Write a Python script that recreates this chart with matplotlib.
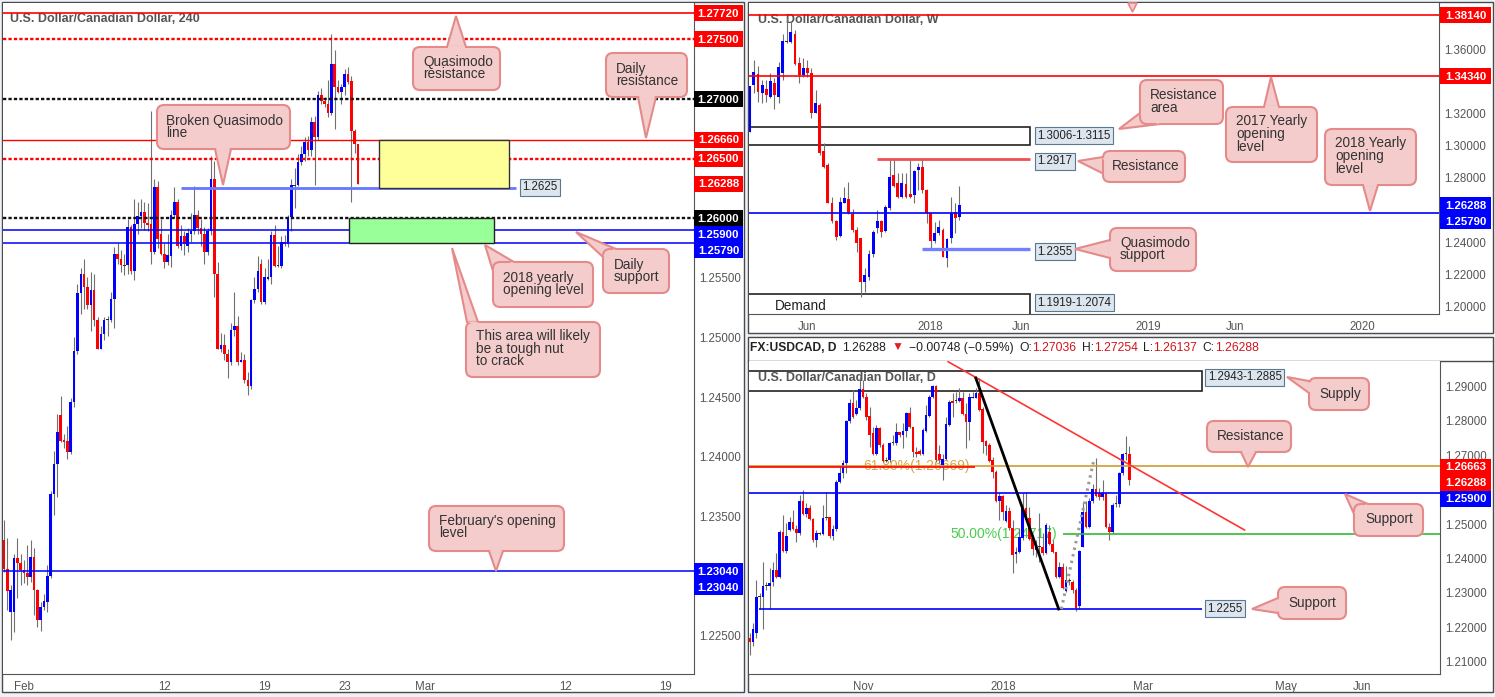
import numpy as np
import pandas as pd
import matplotlib
matplotlib.use("Agg")
import matplotlib.pyplot as plt
from matplotlib.patches import Rectangle, FancyBboxPatch, Polygon
from matplotlib.lines import Line2D
from matplotlib.transforms import Affine2D
from matplotlib.offsetbox import TextArea, HPacker, AnnotationBbox

# ---------------- H4 candles (31 Jan - 23 Feb 2018) ----------------
h4_open = [1.2330, 1.2306, 1.2270, 1.2270, 1.2315, 1.2311, 1.2305, 1.2302, 1.2299, 1.2316,
           1.2288, 1.2263, 1.2274, 1.2278, 1.2300, 1.2369, 1.2394, 1.2435, 1.2414, 1.2413,
           1.2404, 1.2446, 1.2489, 1.2537, 1.2553, 1.2542, 1.2527, 1.2540, 1.2515, 1.2490,
           1.2503, 1.2515, 1.2515, 1.2532, 1.2570, 1.2566, 1.2561, 1.2561, 1.2593, 1.2556,
           1.2595, 1.2602, 1.2605, 1.2596, 1.2595, 1.2572, 1.2626, 1.2587, 1.2570, 1.2563,
           1.2568, 1.2603, 1.2614, 1.2577, 1.2585, 1.2577, 1.2587, 1.2589, 1.2603, 1.2592,
           1.2587, 1.2572, 1.2589, 1.2633, 1.2553, 1.2490, 1.2494, 1.2486, 1.2479, 1.2506,
           1.2510, 1.2479, 1.2481, 1.2464, 1.2459, 1.2531, 1.2541, 1.2562, 1.2530, 1.2549,
           1.2551, 1.2586, 1.2560, 1.2560, 1.2580, 1.2578, 1.2601, 1.2628, 1.2628, 1.2647,
           1.2654, 1.2664, 1.2657, 1.2681, 1.2668, 1.2703, 1.2698, 1.2696, 1.2688, 1.2729,
           1.2710, 1.2706, 1.2710, 1.2721, 1.2715, 1.2673, 1.2662]
h4_high = [1.2347, 1.2332, 1.2292, 1.2318, 1.2332, 1.2318, 1.2313, 1.2326, 1.2330, 1.2323,
           1.2289, 1.2278, 1.2285, 1.2309, 1.2371, 1.2405, 1.2436, 1.2451, 1.2419, 1.2426,
           1.2449, 1.2500, 1.2545, 1.2558, 1.2566, 1.2551, 1.2555, 1.2553, 1.2517, 1.2510,
           1.2517, 1.2518, 1.2538, 1.2576, 1.2579, 1.2573, 1.2570, 1.2599, 1.2594, 1.2616,
           1.2614, 1.2616, 1.2614, 1.2613, 1.2690, 1.2633, 1.2631, 1.2599, 1.2579, 1.2587,
           1.2607, 1.2626, 1.2616, 1.2594, 1.2589, 1.2592, 1.2604, 1.2627, 1.2607, 1.2599,
           1.2593, 1.2592, 1.2652, 1.2648, 1.2563, 1.2504, 1.2503, 1.2490, 1.2512, 1.2538,
           1.2518, 1.2488, 1.2486, 1.2471, 1.2532, 1.2551, 1.2568, 1.2566, 1.2558, 1.2566,
           1.2589, 1.2594, 1.2577, 1.2585, 1.2586, 1.2603, 1.2633, 1.2642, 1.2654, 1.2661,
           1.2668, 1.2669, 1.2685, 1.2686, 1.2707, 1.2709, 1.2702, 1.2716, 1.2755, 1.2741,
           1.2716, 1.2713, 1.2725, 1.2727, 1.2719, 1.2675, 1.2662]
h4_low = [1.2303, 1.2271, 1.2246, 1.2253, 1.2281, 1.2292, 1.2294, 1.2292, 1.2295, 1.2267,
          1.2257, 1.2254, 1.2271, 1.2270, 1.2298, 1.2351, 1.2366, 1.2412, 1.2407, 1.2398,
          1.2402, 1.2442, 1.2486, 1.2520, 1.2524, 1.2524, 1.2505, 1.2510, 1.2490, 1.2490,
          1.2498, 1.2501, 1.2513, 1.2508, 1.2562, 1.2555, 1.2552, 1.2553, 1.2553, 1.2548,
          1.2587, 1.2592, 1.2590, 1.2589, 1.2562, 1.2570, 1.2575, 1.2569, 1.2558, 1.2561,
          1.2559, 1.2600, 1.2575, 1.2573, 1.2569, 1.2572, 1.2580, 1.2587, 1.2587, 1.2577,
          1.2562, 1.2569, 1.2586, 1.2534, 1.2490, 1.2488, 1.2481, 1.2466, 1.2477, 1.2501,
          1.2477, 1.2479, 1.2462, 1.2452, 1.2457, 1.2529, 1.2538, 1.2528, 1.2528, 1.2548,
          1.2545, 1.2559, 1.2559, 1.2558, 1.2577, 1.2576, 1.2589, 1.2609, 1.2627, 1.2645,
          1.2648, 1.2652, 1.2652, 1.2628, 1.2666, 1.2696, 1.2693, 1.2685, 1.2687, 1.2675,
          1.2705, 1.2696, 1.2703, 1.2713, 1.2614, 1.2655, 1.2629]
h4_close = [1.2306, 1.2287, 1.2288, 1.2315, 1.2311, 1.2305, 1.2302, 1.2299, 1.2316, 1.2288,
            1.2263, 1.2274, 1.2279, 1.2300, 1.2369, 1.2394, 1.2421, 1.2413, 1.2412, 1.2404,
            1.2446, 1.2489, 1.2537, 1.2553, 1.2542, 1.2527, 1.2540, 1.2515, 1.2490, 1.2503,
            1.2515, 1.2515, 1.2532, 1.2570, 1.2566, 1.2561, 1.2560, 1.2593, 1.2556, 1.2595,
            1.2602, 1.2605, 1.2596, 1.2594, 1.2572, 1.2626, 1.2583, 1.2570, 1.2563, 1.2569,
            1.2603, 1.2614, 1.2577, 1.2585, 1.2578, 1.2588, 1.2589, 1.2603, 1.2592, 1.2587,
            1.2572, 1.2589, 1.2633, 1.2553, 1.2490, 1.2494, 1.2486, 1.2479, 1.2506, 1.2510,
            1.2479, 1.2481, 1.2464, 1.2459, 1.2531, 1.2541, 1.2556, 1.2530, 1.2551, 1.2551,
            1.2586, 1.2560, 1.2560, 1.2580, 1.2578, 1.2601, 1.2628, 1.2627, 1.2647, 1.2654,
            1.2664, 1.2657, 1.2681, 1.2668, 1.2703, 1.2698, 1.2696, 1.2688, 1.2729, 1.2710,
            1.2706, 1.2710, 1.2721, 1.2714, 1.2673, 1.2662, 1.26288]
h4_start = '2018-01-31'
h4_tick_dates = ['2018-02-01', '2018-02-12', '2018-02-19', '2018-02-23',
                 '2018-03-01', '2018-03-12', '2018-03-19']
h4_tick_labels = ['Feb', '12', '19', '23', 'Mar', '12', '19']

# ---------------- weekly candles (27 Feb 2017 - 19 Feb 2018) ----------------
w_open = [1.3089, 1.3378, 1.3449, 1.3332, 1.3353, 1.3307, 1.3395, 1.3307, 1.3453, 1.3655,
          1.3646, 1.3698, 1.3515, 1.3442, 1.3486, 1.3457, 1.3207, 1.3253, 1.2968, 1.2881,
          1.2646, 1.2531, 1.2438, 1.2646, 1.2667, 1.2575, 1.2475, 1.2423, 1.2153, 1.2184,
          1.2323, 1.2486, 1.2531, 1.2471, 1.2615, 1.2818, 1.2766, 1.2683, 1.2760, 1.2700,
          1.2694, 1.2850, 1.2870, 1.2725, 1.2579, 1.2407, 1.2459, 1.2475, 1.2298, 1.2427,
          1.2590, 1.2558]
w_high = [1.3374, 1.3536, 1.3499, 1.3411, 1.3411, 1.3453, 1.3422, 1.3526, 1.3698, 1.3806,
          1.3775, 1.3723, 1.3557, 1.3546, 1.3536, 1.3484, 1.3349, 1.3270, 1.3016, 1.2891,
          1.2683, 1.2538, 1.2683, 1.2746, 1.2777, 1.2604, 1.2496, 1.2427, 1.2236, 1.2350,
          1.2475, 1.2600, 1.2538, 1.2631, 1.2916, 1.2912, 1.2829, 1.2829, 1.2833, 1.2912,
          1.2850, 1.2891, 1.2916, 1.2729, 1.2583, 1.2527, 1.2538, 1.2486, 1.2423, 1.2683,
          1.2642, 1.2752]
w_low = [1.3089, 1.3328, 1.3276, 1.3266, 1.3276, 1.3297, 1.3228, 1.3266, 1.3411, 1.3640,
         1.3640, 1.3505, 1.3390, 1.3432, 1.3432, 1.3172, 1.3203, 1.2943, 1.2860, 1.2642,
         1.2517, 1.2413, 1.2434, 1.2642, 1.2575, 1.2465, 1.2340, 1.2059, 1.2090, 1.2163,
         1.2309, 1.2459, 1.2434, 1.2465, 1.2600, 1.2746, 1.2673, 1.2673, 1.2673, 1.2673,
         1.2642, 1.2725, 1.2708, 1.2517, 1.2350, 1.2392, 1.2444, 1.2305, 1.2246, 1.2392,
         1.2455, 1.2538]
w_close = [1.3374, 1.3461, 1.3338, 1.3380, 1.3318, 1.3405, 1.3318, 1.3490, 1.3655, 1.3646,
           1.3709, 1.3509, 1.3442, 1.3486, 1.3457, 1.3207, 1.3266, 1.2958, 1.2870, 1.2646,
           1.2531, 1.2434, 1.2648, 1.2673, 1.2579, 1.2475, 1.2392, 1.2153, 1.2194, 1.2323,
           1.2465, 1.2531, 1.2465, 1.2621, 1.2808, 1.2752, 1.2683, 1.2771, 1.2679, 1.2679,
           1.2843, 1.2870, 1.2725, 1.2579, 1.2407, 1.2459, 1.2496, 1.2309, 1.2419, 1.2579,
           1.2552, 1.26288]
w_start = '2017-02-27'
w_tick_months = [(2017, 6), (2018, 1), (2018, 6), (2019, 1), (2019, 6), (2020, 1)]
w_tick_labels = ['Jun', '2018', 'Jun', '2019', 'Jun', '2020']

# ---------------- daily candles (14 Sep 2017 - 23 Feb 2018) ----------------
d_open = [1.2169, 1.2159, 1.2185, 1.2288, 1.2288, 1.2320, 1.2320, 1.2333, 1.2367, 1.2346,
          1.2478, 1.2423, 1.2483, 1.2505, 1.2485, 1.2473, 1.2567, 1.2529, 1.2547, 1.2514,
          1.2453, 1.2473, 1.2472, 1.2518, 1.2520, 1.2466, 1.2485, 1.2622, 1.2647, 1.2676,
          1.2800, 1.2852, 1.2819, 1.2835, 1.2890, 1.2867, 1.2813, 1.2763, 1.2703, 1.2777,
          1.2729, 1.2684, 1.2686, 1.2734, 1.2734, 1.2767, 1.2758, 1.2771, 1.2823, 1.2780,
          1.2710, 1.2713, 1.2703, 1.2771, 1.2813, 1.2867, 1.2900, 1.2702,
          1.2671, 1.2688, 1.2787, 1.2857, 1.2858, 1.2858, 1.2864, 1.2819, 1.2797, 1.2866,
          1.2866, 1.2879, 1.2832, 1.2741, 1.2729, 1.2686, 1.2652, 1.2568, 1.2581, 1.2510,
          1.2538, 1.2488, 1.2412, 1.2418, 1.2459, 1.2545, 1.2518, 1.2459, 1.2425, 1.2433,
          1.2433, 1.2415, 1.2476, 1.2441, 1.2418, 1.2345, 1.2375, 1.2307, 1.2336, 1.2333,
          1.2309, 1.2261, 1.2434, 1.2536, 1.2490, 1.2567, 1.2602, 1.2589, 1.2577, 1.2591,
          1.2490, 1.2478, 1.2558, 1.2558, 1.2647, 1.2702, 1.27036]
d_high = [1.2183, 1.2212, 1.2338, 1.2299, 1.2391, 1.2333, 1.2372, 1.2391, 1.2415, 1.2483,
          1.2526, 1.2502, 1.2521, 1.2541, 1.2497, 1.2584, 1.2599, 1.2560, 1.2555, 1.2517,
          1.2483, 1.2478, 1.2555, 1.2594, 1.2521, 1.2497, 1.2628, 1.2666, 1.2686, 1.2802,
          1.2861, 1.2888, 1.2859, 1.2927, 1.2917, 1.2879, 1.2840, 1.2782, 1.2787, 1.2782,
          1.2734, 1.2695, 1.2739, 1.2758, 1.2792, 1.2768, 1.2792, 1.2826, 1.2840, 1.2782,
          1.2724, 1.2717, 1.2777, 1.2845, 1.2874, 1.2903, 1.2903, 1.2729,
          1.2703, 1.2811, 1.2860, 1.2879, 1.2884, 1.2893, 1.2884, 1.2850, 1.2879, 1.2884,
          1.2893, 1.2922, 1.2840, 1.2744, 1.2734, 1.2695, 1.2657, 1.2589, 1.2584, 1.2555,
          1.2550, 1.2512, 1.2434, 1.2488, 1.2589, 1.2594, 1.2550, 1.2468, 1.2454, 1.2531,
          1.2473, 1.2502, 1.2497, 1.2454, 1.2420, 1.2391, 1.2386, 1.2377, 1.2343, 1.2338,
          1.2314, 1.2425, 1.2565, 1.2566, 1.2576, 1.2616, 1.2692, 1.2603, 1.2627, 1.2594,
          1.2502, 1.2560, 1.2584, 1.2652, 1.2705, 1.2755, 1.27254]
d_low = [1.2121, 1.2145, 1.2169, 1.2253, 1.2195, 1.2309, 1.2253, 1.2319, 1.2343, 1.2343,
         1.2420, 1.2415, 1.2481, 1.2483, 1.2449, 1.2468, 1.2526, 1.2521, 1.2512, 1.2449,
         1.2434, 1.2468, 1.2468, 1.2512, 1.2459, 1.2454, 1.2481, 1.2618, 1.2632, 1.2647,
         1.2792, 1.2806, 1.2816, 1.2830, 1.2864, 1.2802, 1.2724, 1.2700, 1.2700, 1.2724,
         1.2681, 1.2681, 1.2681, 1.2729, 1.2729, 1.2753, 1.2719, 1.2753, 1.2777, 1.2695,
         1.2695, 1.2700, 1.2700, 1.2768, 1.2811, 1.2864, 1.2681, 1.2676,
         1.2628, 1.2686, 1.2784, 1.2811, 1.2850, 1.2855, 1.2816, 1.2719, 1.2744, 1.2864,
         1.2864, 1.2829, 1.2705, 1.2700, 1.2681, 1.2632, 1.2565, 1.2512, 1.2512, 1.2507,
         1.2483, 1.2357, 1.2386, 1.2415, 1.2454, 1.2517, 1.2454, 1.2410, 1.2405, 1.2391,
         1.2410, 1.2413, 1.2439, 1.2415, 1.2343, 1.2343, 1.2311, 1.2304, 1.2323, 1.2299,
         1.2249, 1.2253, 1.2433, 1.2488, 1.2488, 1.2560, 1.2577, 1.2570, 1.2570, 1.2488,
         1.2454, 1.2473, 1.2550, 1.2550, 1.2642, 1.2686, 1.26137]
d_close = [1.2159, 1.2195, 1.2288, 1.2287, 1.2320, 1.2321, 1.2328, 1.2367, 1.2346, 1.2478,
           1.2423, 1.2465, 1.2505, 1.2485, 1.2473, 1.2567, 1.2529, 1.2547, 1.2514, 1.2453,
           1.2473, 1.2472, 1.2518, 1.2520, 1.2466, 1.2485, 1.2622, 1.2647, 1.2676, 1.2800,
           1.2852, 1.2809, 1.2835, 1.2890, 1.2867, 1.2811, 1.2758, 1.2703, 1.2777, 1.2729,
           1.2684, 1.2686, 1.2734, 1.2736, 1.2767, 1.2758, 1.2771, 1.2823, 1.2780, 1.2710,
           1.2703, 1.2703, 1.2773, 1.2816, 1.2867, 1.2900, 1.2686, 1.2686,
           1.2688, 1.2790, 1.2855, 1.2850, 1.2859, 1.2864, 1.2819, 1.2797, 1.2869, 1.2869,
           1.2879, 1.2830, 1.2739, 1.2726, 1.2684, 1.2652, 1.2568, 1.2581, 1.2536, 1.2538,
           1.2488, 1.2410, 1.2418, 1.2461, 1.2545, 1.2518, 1.2456, 1.2428, 1.2433, 1.2432,
           1.2415, 1.2497, 1.2441, 1.2418, 1.2345, 1.2375, 1.2314, 1.2338, 1.2335, 1.2309,
           1.2256, 1.2422, 1.2536, 1.2490, 1.2567, 1.2602, 1.2581, 1.2577, 1.2591, 1.2490,
           1.2478, 1.2555, 1.2560, 1.2647, 1.2702, 1.2704, 1.26288]
d_start, d_end = '2017-09-14', '2018-06-29'
d_holidays = ['2017-12-25', '2018-01-01']
d_tick_months = [(2017, 11), (2018, 1), (2018, 3), (2018, 5), (2018, 6)]
d_tick_labels = ['Nov', '2018', 'Mar', 'May', 'Jun']

RED, BLUE, BLACK = '#ff0000', '#0000ff', '#111111'
W, H = 1495, 697
plt.rcParams['font.family'] = ['Liberation Sans', 'DejaVu Sans']

fig = plt.figure(figsize=(W / 100, H / 100), dpi=100, facecolor='#eef1f6')
PX = Affine2D().scale(1 / W, -1 / H).translate(0, 1) + fig.transFigure


def make_axes(rect, xlim, ylim, yticks):
    x0, y0, x1, y1 = rect
    ax = fig.add_axes([x0 / W, 1 - y1 / H, (x1 - x0) / W, (y1 - y0) / H])
    ax.set_xlim(*xlim)
    ax.set_ylim(*ylim)
    ax.set_facecolor('white')
    for side in ('top', 'left'):
        ax.spines[side].set_visible(False)
    for side in ('right', 'bottom'):
        ax.spines[side].set_color('#555555')
    ax.yaxis.tick_right()
    ax.set_yticks(yticks)
    ax.tick_params(length=0, labelsize=8.3, labelcolor='#555555', pad=4)
    ax.tick_params(axis='x', pad=5)
    return ax


def draw_candles(ax, o, h, l, c, width, doji):
    o, h, l, c = (np.asarray(v) for v in (o, h, l, c))
    x = np.arange(len(o))
    ax.vlines(x, l, h, color='#707070', lw=0.8, zorder=3)
    y0, y1 = ax.get_ylim()
    one_px = (y1 - y0) / (ax.get_position().height * H)
    col = np.where(c >= o, BLUE, RED).astype(object)
    col[np.abs(c - o) < doji] = '#3a2a2a'
    ax.bar(x, np.maximum(np.abs(c - o), one_px), width, bottom=np.minimum(o, c),
           color=list(col), lw=0, zorder=3.1)


def value_tag(ax, x, y, text):
    ax.text(x, y, text, ha='left', va='center', fontsize=8.3, color='#222222', zorder=6,
            bbox=dict(boxstyle='square,pad=0.22', fc='#dde6ee', ec='#5a7890', lw=0.8))


def price_px(ax, p):
    return H - ax.transData.transform((0, p))[1] * H / fig.bbox.height


def axis_tags(ax, tags, x0, x1):
    last = -1e9
    placed = []
    for p, color in sorted(tags, key=lambda t: -t[0]):
        y = max(price_px(ax, p), last + 16)
        last = y
        placed.append(y)
        fig.add_artist(Rectangle((x0, y - 8), x1 - x0, 16, transform=PX,
                                 fc=color, ec='none', zorder=30))
        fig.text((x0 + x1) / 2, y + 0.5, f'{p:.5f}', transform=PX, ha='center',
                 va='center', color='white', fontsize=8.2, fontweight='bold', zorder=31)
    # tick labels hidden under a tag are left out
    labels = []
    for t in ax.get_yticks():
        ty = price_px(ax, t)
        labels.append('' if any(abs(ty - y) < 10 for y in placed) else f'{t:.5f}')
    ax.set_yticklabels(labels)


def callout(lines, box, tip, base, txt):
    fc, ec = '#f4cccc', '#e58a8a'
    x0, y0, x1, y1 = box
    fig.add_artist(Polygon([base[0], tip, base[1]], closed=True, transform=PX,
                           fc=fc, ec=ec, lw=1.5, zorder=20))
    fig.add_artist(FancyBboxPatch((x0, y0), x1 - x0, y1 - y0,
                                  boxstyle='round,pad=0,rounding_size=7', transform=PX,
                                  fc=fc, ec=ec, lw=1.5, zorder=21))
    b0, b1 = np.array(base[0], float), np.array(base[1], float)
    centre = np.array([(x0 + x1) / 2, (y0 + y1) / 2])
    u = (b1 - b0) / np.linalg.norm(b1 - b0)
    n = centre - (b0 + b1) / 2
    n = n / np.linalg.norm(n)
    b0s, b1s = b0 + u * 1.3, b1 - u * 1.3
    cover = [b0s - n * 1.2, b1s - n * 1.2, b1s + n * 3, b0s + n * 3]
    fig.add_artist(Polygon(cover, closed=True, transform=PX, fc=fc, ec='none', zorder=22))
    fig.text(txt[0], txt[1], '\n'.join(lines), transform=PX, ha='left', va='center',
             fontsize=9.8, color='#333333', linespacing=0.88, zorder=23)


# panel frames
for x0, y0, x1, y1 in [(2, 2, 744, 692), (748, 2, 1493, 333), (748, 337, 1493, 692)]:
    fig.add_artist(Rectangle((x0, y0), x1 - x0, y1 - y0, transform=PX, fc='white',
                             ec='#4a4a4a', lw=1, zorder=-5))
fig.add_artist(Line2D([748, 1493], [361, 361], transform=PX, color='#4a4a4a', lw=1, zorder=-4))

title_kw = dict(transform=PX, ha='left', va='center', fontsize=9, fontweight='bold',
                color='#555555', zorder=1.5)
dash = (0, (1.4, 0.9))

# ======================= H4 panel =======================
ax4 = make_axes((3, 3, 694, 674), (-0.3, 206.6), (1.22176, 1.27806),
                np.arange(1.225, 1.2781, 0.005))
h4_days = pd.bdate_range(h4_start, '2018-03-30')
ax4.set_xticks([h4_days.get_loc(pd.Timestamp(d)) * 6 for d in h4_tick_dates])
ax4.set_xticklabels(h4_tick_labels)
draw_candles(ax4, h4_open, h4_high, h4_low, h4_close, 0.78, 0.00015)
ax4.text(10.5, 19.3, 'U.S. Dollar/Canadian Dollar, 240', **title_kw)

ax4.axhline(1.2772, color=RED, lw=1.2, zorder=4)
ax4.axhline(1.2750, color=RED, lw=1.7, ls=dash, zorder=4)
ax4.axhline(1.2700, color=BLACK, lw=1.7, ls=dash, zorder=4)
ax4.axhline(1.2666, color=RED, lw=1.0, zorder=4)
ax4.axhline(1.2650, color=RED, lw=1.7, ls=dash, zorder=4)
ax4.axhline(1.2600, color=BLACK, lw=1.7, ls=dash, zorder=4)
ax4.axhline(1.2590, color=BLUE, lw=1.1, zorder=4)
ax4.axhline(1.2579, color=BLUE, lw=1.1, zorder=4)
ax4.axhline(1.2304, color=BLUE, lw=1.1, zorder=4)
ax4.hlines(1.2625, 52.9, 153.2, color='#6677ff', lw=2, zorder=4)
ax4.add_patch(Rectangle((112.3, 1.2625), 39.0, 1.2666 - 1.2625, fc='#ffff99',
                        ec='#333333', lw=1, zorder=4.5))
ax4.add_patch(Rectangle((103.4, 1.2579), 43.4, 1.2600 - 1.2579, fc='#99ff99',
                        ec='#222222', lw=1, zorder=4.5))
value_tag(ax4, 155.3, 1.2626, '1.2625')

# ======================= weekly panel =======================
axw = make_axes((749, 3, 1439, 314), (-0.19, 167.7), (1.1951, 1.38917),
                np.arange(1.20, 1.381, 0.02))
w_weeks = pd.date_range(w_start, periods=170, freq='W-MON')
axw.set_xticks([int(np.argmax((w_weeks.year == y) & (w_weeks.month == m)))
                for y, m in w_tick_months])
axw.set_xticklabels(w_tick_labels)
draw_candles(axw, w_open, w_high, w_low, w_close, 0.7, 0.001)
axw.text(758.4, 20, 'U.S. Dollar/Canadian Dollar, W', **title_kw)
axw.text(775, 306, 'Demand', transform=PX, ha='left', va='center', fontsize=9.8,
         color='#222222', zorder=1.5)

axw.axhline(1.3814, color=RED, lw=1.2, zorder=4)
axw.axhline(1.3434, color=RED, lw=1.2, zorder=4)
axw.axhline(1.2579, color=BLUE, lw=1.2, zorder=4)
axw.add_patch(Rectangle((-2, 1.3006), 70.1, 1.3115 - 1.3006, fc='none', ec='#222222',
                        lw=1.2, zorder=2))
axw.add_patch(Rectangle((-2, 1.1919), 70.1, 1.2074 - 1.1919, fc='none', ec='#222222',
                        lw=1.2, zorder=2))
axw.hlines(1.2917, 31.0, 68.1, color='#f05050', lw=2, zorder=4)
axw.hlines(1.2355, 41.9, 68.1, color='#7080ff', lw=2.4, zorder=4)
value_tag(axw, 69.9, 1.3064, '1.3006-1.3115')
value_tag(axw, 69.9, 1.2905, '1.2917')
value_tag(axw, 69.9, 1.2340, '1.2355')
value_tag(axw, 69.9, 1.2020, '1.1919-1.2074')

# ======================= daily panel =======================
axd = make_axes((749, 361, 1440, 674), (-0.2, 207.3), (1.20652, 1.29725),
                np.arange(1.21, 1.291, 0.01))
d_days = pd.bdate_range(d_start, d_end).drop(pd.to_datetime(d_holidays))
axd.set_xticks([int(np.argmax((d_days.year == y) & (d_days.month == m)))
                for y, m in d_tick_months])
axd.set_xticklabels(d_tick_labels)
axd.add_patch(Rectangle((-2, 1.2885), 137.7, 1.2943 - 1.2885, fc='white', ec='#222222',
                        lw=1.2, zorder=1))
axd.text(758.4, 378.3, 'U.S. Dollar/Canadian Dollar, D', **title_kw)
axd.text(34.2, 1.26669, '61.80%(1.26669)', color='#dba64a', fontsize=10, va='center',
         zorder=1.5)
axd.text(60.3, 1.24717, '50.00%(1.24717)', color='#4ccc4c', fontsize=10, va='center',
         zorder=1.5)
draw_candles(axd, d_open, d_high, d_low, d_close, 0.8, 0.00025)

axd.axhline(1.26669, color='#cf9b2e', lw=1.2, zorder=4)
axd.hlines(1.26663, -1, 67.6, color=RED, lw=1.2, zorder=4.1)
axd.axhline(1.2590, color=BLUE, lw=1.2, zorder=4)
axd.hlines(1.24717, 94, 210, color='#33bb33', lw=1.2, zorder=4)
axd.hlines(1.2255, 2.8, 135.7, color=BLUE, lw=1.2, zorder=4)
axd.plot([59.6, 148.6], [1.29704, 1.24826], color='#ff3333', lw=1.2, zorder=4)
axd.plot([67.9, 92.8], [1.29232, 1.22536], color='black', lw=2, zorder=4)
axd.plot([93.6, 103.4], [1.22536, 1.26875], color='#9a9a9a', lw=2.2,
         ls=(0, (0.8, 1.4)), zorder=4)
value_tag(axd, 137.6, 1.2925, '1.2943-1.2885')
value_tag(axd, 137.5, 1.2255, '1.2255')

# header line of the daily chart
chg = d_close[-1] - d_open[-1]
hdr = [[('FX:USDCAD, D', '#222222', 'bold')],
       [(f'{d_close[-1]:.5f}', '#222222', 'normal')],
       [('\u25bc', '#e31b23', 'normal')],
       [(f'\u2212{abs(chg):.5f} (\u2212{abs(chg) / d_open[-1] * 100:.2f}%)', '#222222', 'normal')],
       [('O:', '#222222', 'normal'), (f'{d_open[-1]:.5f}', '#d0161e', 'normal')],
       [('H:', '#222222', 'normal'), (f'{d_high[-1]:.5f}', '#d0161e', 'normal')],
       [('L:', '#222222', 'normal'), (f'{d_low[-1]:.5f}', '#d0161e', 'normal')],
       [('C:', '#222222', 'normal'), (f'{d_close[-1]:.5f}', '#d0161e', 'normal')]]
groups = [HPacker(children=[TextArea(t, textprops=dict(color=c, fontsize=8.7, fontweight=wt))
                            for t, c, wt in g], sep=0, pad=0, align='baseline') for g in hdr]
fig.add_artist(AnnotationBbox(HPacker(children=groups, sep=4, pad=0, align='baseline'),
                              (750, 348), xycoords=PX, box_alignment=(0, 0.5),
                              frameon=False, pad=0, zorder=25))

# price tags on the axes
axis_tags(ax4, [(1.2772, RED), (1.2750, RED), (1.2700, 'black'), (1.2666, RED),
                (1.2650, RED), (h4_close[-1], RED), (1.2600, 'black'), (1.2590, BLUE),
                (1.2579, BLUE), (1.2304, BLUE), (1.2304, BLUE)], 694, 743)
axis_tags(axw, [(1.3814, RED), (1.3434, RED), (w_close[-1], BLUE), (1.2579, BLUE)],
          1440, 1491)
axis_tags(axd, [(1.26663, RED), (d_close[-1], RED), (1.2590, BLUE)], 1440, 1491)

# callouts
callouts = [
    (['Quasimodo', 'resistance'], (413, 47, 500, 90), (456, 16), [(447, 47), (466, 47)], (423, 68)),
    (['Daily', 'resistance'], (606, 53, 687, 97), (646, 138), [(638, 97), (656, 97)], (616, 75)),
    (['Broken Quasimodo', 'line'], (157, 105, 290, 149), (223, 185), [(215, 149), (231, 149)], (166, 127)),
    (['2018 yearly', 'opening level'], (493, 262, 593, 307), (485, 245), [(493, 271), (514, 262)], (503, 284)),
    (['Daily', 'support'], (603, 249, 669, 293), (576, 232), [(603, 257), (616, 249)], (614, 271)),
    (['This area will likely', 'be a tough nut', 'to crack'], (466, 322, 600, 377), (452, 248),
     [(467, 322), (478, 322)], (476, 348.5)),
    (["February's opening", 'level'], (429, 506, 564, 551), (496, 571), [(489, 551), (503, 551)], (439, 527)),
    (['Resistance', 'area'], (1140, 80, 1223, 124), (1119, 129), [(1140, 113), (1160, 124)], (1150, 101.5)),
    (['2017 Yearly', 'opening', 'level'], (1226, 107, 1317, 162), (1271, 77), [(1264, 107), (1279, 107)], (1236, 134)),
    (['2018 Yearly', 'opening', 'level'], (1325, 129, 1416, 185), (1370, 211), [(1363, 185), (1378, 185)], (1335, 156)),
    (['Resistance'], (1103, 151, 1185, 182), (1078, 161), [(1103, 157), (1120, 182)], (1112, 166)),
    (['Quasimodo', 'support'], (1110, 228, 1196, 271), (1075, 249), [(1110, 240), (1110, 258)], (1120, 249)),
    (['Supply'], (1309, 378, 1369, 410), (1287, 377), [(1309, 381), (1309, 393)], (1319, 394)),
    (['Resistance'], (1207, 421, 1291, 452), (1248, 467), [(1241, 452), (1256, 452)], (1217, 436)),
    (['Support'], (1354, 504, 1423, 536), (1345, 494), [(1354, 514), (1368, 504)], (1365, 519)),
    (['Support'], (1278, 587, 1346, 619), (1252, 609), [(1278, 598), (1278, 613)], (1288, 603)),
]
for lines, box, tip, base, txt in callouts:
    callout(lines, box, tip, base, txt)
fig.add_artist(Polygon([(1128, 3), (1132.5, 12), (1137, 3)], closed=True, transform=PX,
                       fc='#f4cccc', ec='#e58a8a', lw=1.2, zorder=20))

fig.savefig('out.png', dpi=100, facecolor=fig.get_facecolor())
